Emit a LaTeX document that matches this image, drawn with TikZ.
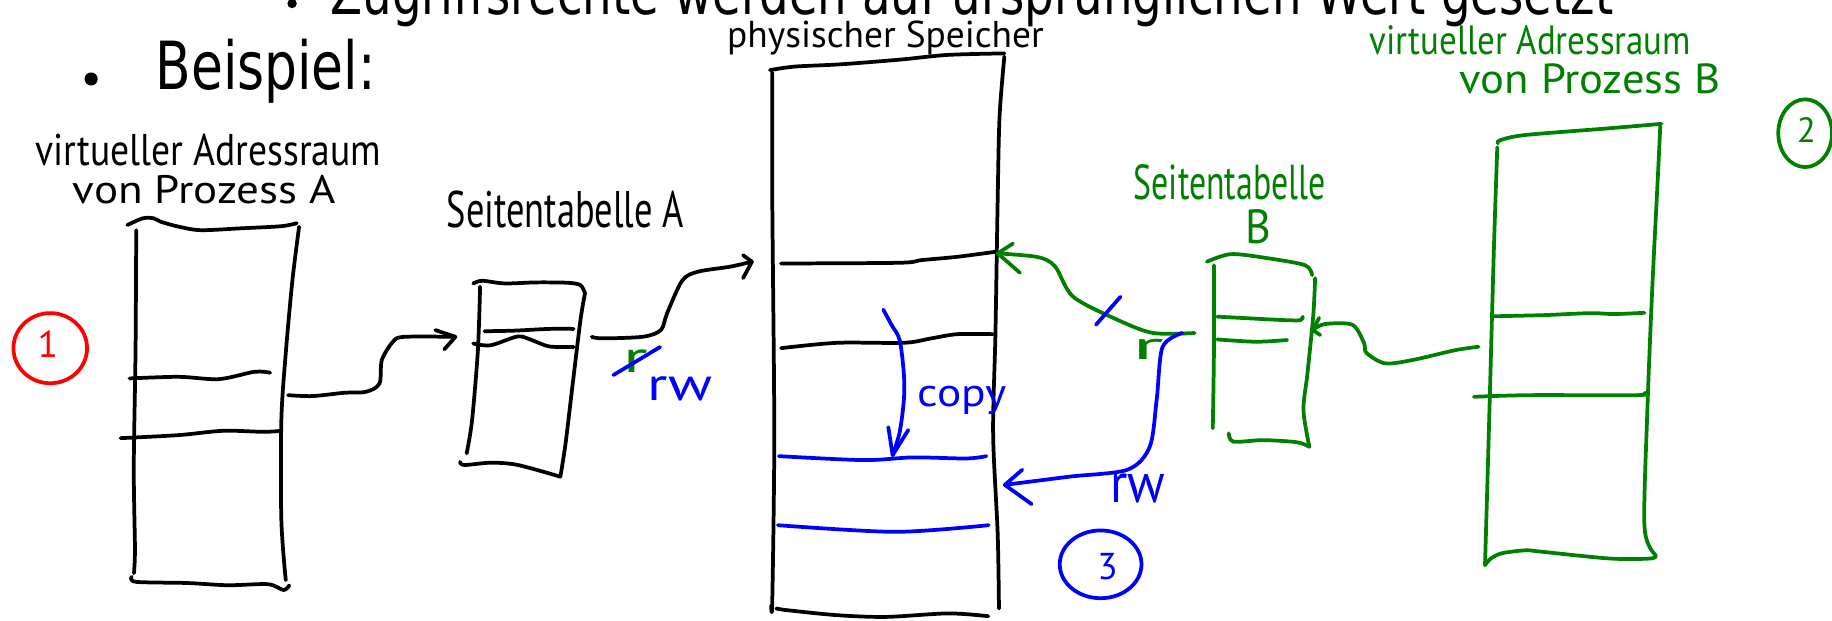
\documentclass[tikz,border=0pt]{standalone}
\usepackage{fontspec}
\usepackage{graphicx}
\newfontfamily\slidefont{DejaVu Sans}
\newfontfamily\penfont{PT Sans}
\newcommand\fitw[2]{\resizebox{#1}{\height}{#2}}
\definecolor{pengreen}{RGB}{0,128,0}
\definecolor{penblue}{RGB}{0,0,255}
\definecolor{penred}{RGB}{255,0,0}
\begin{document}
\begin{tikzpicture}[x=0.5pt,y=-0.5pt,
  pen/.style={line width=1.6pt,line cap=round,line join=round},
  lbl/.style={inner sep=0pt,anchor=base west},
  digit/.style={inner sep=0pt,anchor=base}]
\useasboundingbox (0,0) rectangle (1568,531);
\clip (0,0) rectangle (1568,531);

% ---- typed slide text ----
\node[lbl,font=\slidefont\fontsize{25.5}{30}\selectfont] (subitem) at (282.5,12)
  {\fitw{549pt}{Zugriffsrechte werden auf ursprünglichen Wert gesetzt}};
\fill (250,3) circle (4);
\node[lbl,font=\slidefont\fontsize{28.4}{34}\selectfont] (beispiel) at (132.7,77)
  {\fitw{94.2pt}{Beispiel:}};
\fill (78,67.6) circle (5.6);

% ---- handwritten labels ----
\node[lbl,font=\penfont\fontsize{19}{22}\selectfont] (vaA1) at (30,142)
  {\fitw{148pt}{virtueller Adressraum}};
\node[lbl,font=\penfont\fontsize{17}{20}\selectfont] (vaA2) at (62,174)
  {\fitw{112.5pt}{von Prozess A}};
\node[lbl,font=\penfont\fontsize{22}{26}\selectfont] (ptA) at (382,195)
  {\fitw{101.5pt}{Seitentabelle A}};
\node[lbl,font=\penfont\fontsize{16}{20}\selectfont] (phys) at (622,41)
  {\fitw{135.5pt}{physischer Speicher}};
\node[lbl,font=\penfont\fontsize{21}{25}\selectfont,text=pengreen] (ptB1) at (970,171)
  {\fitw{82pt}{Seitentabelle}};
\node[lbl,font=\penfont\fontsize{20.5}{25}\selectfont,text=pengreen] (ptB2) at (1066,208)
  {\fitw{11pt}{B}};
\node[lbl,font=\penfont\fontsize{17.5}{20}\selectfont,text=pengreen] (vaB1) at (1172,47)
  {\fitw{137.5pt}{virtueller Adressraum}};
\node[lbl,font=\penfont\fontsize{18}{22}\selectfont,text=pengreen] (vaB2) at (1249,80)
  {\fitw{111.5pt}{von Prozess B}};

% ---- virtual address space A ----
\draw[pen] plot[smooth,tension=.5] coordinates {(109,192.6) (122.4,186.8) (131.8,186.9) (137.6,189.8) (152.9,194) (172,197) (206.4,195.4) (240.8,193.6) (254,191)};
\draw[pen] plot[smooth,tension=.5] coordinates {(116.6,197) (116,300) (114.5,400) (115.5,470) (114.6,490.6)};
\draw[pen] plot[smooth,tension=.5] coordinates {(256,194) (250.3,239.7) (244.6,302) (240.8,359.6) (240.8,445) (244.6,496.6)};
\draw[pen] plot[smooth,tension=.5] coordinates {(112.7,493.7) (116.6,498) (160.5,499) (195,500.9) (229.3,500) (242.7,505) (247.6,501)};
\draw[pen] plot[smooth,tension=.5] coordinates {(110.9,323.9) (152.9,322.5) (187.3,324.5) (217.8,318.2) (231.2,319)};
\draw[pen] plot[smooth,tension=.5] coordinates {(103.2,375) (152.9,372.4) (191,368.7) (225.5,369.6) (240.8,368.7)};

% ---- page table A ----
\draw[pen] plot[smooth,tension=.5] coordinates {(405,242.6) (412.8,240.3) (431.9,242.6) (458.6,241.7) (485.4,242) (496.7,244) (500.7,251)};
\draw[pen] plot[smooth,tension=.5] coordinates {(410.9,245.4) (409,300) (404,360) (399.4,388)};
\draw[pen] plot[smooth,tension=.5] coordinates {(500.7,251) (496.8,274) (490,330) (484,380) (479.6,408)};
\draw[pen] plot[smooth,tension=.5] coordinates {(393.7,395.3) (397.5,398) (420.4,396) (443.3,398) (479.6,408)};
\draw[pen] plot[smooth,tension=.5] coordinates {(414.7,283.5) (440,283) (470,281.5) (491,281.5)};
\draw[pen] plot[smooth,tension=.5] coordinates {(405,294) (420,295.5) (443,288) (455,291) (470,296.5) (491,297)};

% ---- physical memory ----
\draw[pen] plot[smooth,tension=.5] coordinates {(659,60) (680,57) (720,55) (770.5,51) (811,47) (859.6,45.7)};
\draw[pen] plot[smooth,tension=.5] coordinates {(661,62) (661,171) (662.7,371) (661,513.7) (660,518)};
\draw[pen] plot[smooth,tension=.5] coordinates {(859.6,48.5) (855.5,100) (853.9,171) (852,285) (850,371) (853.9,456.7) (855,520.8)};
\draw[pen] plot[smooth,tension=.5] coordinates {(664.4,520.8) (674.2,522.3) (716.3,526.5) (758.3,528) (811.6,525) (845.9,527.4)};
\draw[pen] plot[smooth,tension=.5] coordinates {(668.5,225.5) (769.7,224.9) (788.9,222.6) (819.3,219.8) (852,215.5)};
\draw[pen] plot[smooth,tension=.5] coordinates {(668.5,298) (716.3,293.4) (773.6,293.4) (796.5,289.7) (819.3,286) (850,286)};
\draw[pen,penblue] plot[smooth,tension=.5] coordinates {(666.6,390.4) (739.2,393.8) (781.2,391.5) (827,392.4) (844.2,390.4)};
\draw[pen,penblue] plot[smooth,tension=.5] coordinates {(665.8,449.5) (766,455.2) (846.2,449.5)};

% ---- page table B ----
\draw[pen,pengreen] plot[smooth,tension=.5] coordinates {(1033,224) (1053.7,217.5) (1085,221) (1117,227) (1123,235.5)};
\draw[pen,pengreen] plot[smooth,tension=.5] coordinates {(1039,227) (1039,300) (1038,366.6)};
\draw[pen,pengreen] plot[smooth,tension=.5] coordinates {(1125.6,238) (1124,270) (1119,320) (1115.6,351) (1120.7,382.4)};
\draw[pen,pengreen] plot[smooth,tension=.5] coordinates {(1051.7,370.8) (1055.7,378) (1081,376.7) (1110,378.5) (1120.7,382.4)};
\draw[pen,pengreen] plot[smooth,tension=.5] coordinates {(1041.7,271) (1070,272.5) (1100,274) (1113,274) (1115,271)};
\draw[pen,pengreen] plot[smooth,tension=.5] coordinates {(1041.7,290.5) (1075,292.5) (1101.6,291)};

% ---- virtual address space B ----
\draw[pen,pengreen] plot[smooth,tension=.5] coordinates {(1282,122.7) (1284,120) (1305,115.6) (1376,109.9) (1422,106)};
\draw[pen,pengreen] plot[smooth,tension=.5] coordinates {(1281.5,126) (1279,200) (1277,270) (1274,380) (1271,483.7)};
\draw[pen,pengreen] plot[smooth,tension=.5] coordinates {(1421,108) (1419,150) (1414,250) (1410,350) (1407.5,451) (1417,475)};
\draw[pen,pengreen] plot[smooth,tension=.5] coordinates {(1271,483.7) (1276,478) (1285.5,473.5) (1305.5,471) (1317.5,472) (1377.4,478) (1413,478) (1417,475)};
\draw[pen,pengreen] plot[smooth,tension=.5] coordinates {(1277.4,270.7) (1321.5,269.7) (1361,268) (1381.4,268.8) (1407.4,267.7)};
\draw[pen,pengreen] plot[smooth,tension=.5] coordinates {(1261.5,339.6) (1309.4,338.2) (1401.4,338.2) (1407.4,336.3)};

% ---- connector end points ----
\coordinate (aOut) at (246.5,338.2);
\coordinate (tabAin) at (389.8,288.3);
\coordinate (tabAout) at (506.4,288.3);
\coordinate (physIn) at (643.6,224);
\coordinate (copyFrom) at (756,265);
\coordinate (copyTo) at (764,389.6);
\coordinate (tabBout) at (1022.5,285);
\coordinate (physInB) at (853.9,216.9);
\coordinate (rwFrom) at (1012,285);
\coordinate (rwTo) at (860,415);
\coordinate (vbOut) at (1265.5,296.8);
\coordinate (tabBin) at (1123.6,282.5);

% A -> page table A
\draw[pen] plot[smooth,tension=.5] coordinates {(aOut) (267.5,339) (294.3,336.2) (313.4,335.3) (324.8,328.2) (326.8,308.2) (336.3,292.5) (345.9,288.3) (tabAin)};
\draw[pen] (372.6,282.5) -- (tabAin) -- (380.3,299);
% page table A -> physical frame
\draw[pen] plot[smooth,tension=.5] coordinates {(tabAout) (516,289.6) (550.3,288.2) (565.6,282.5) (571,268) (584,240) (597.6,232.5) (624.6,228.3) (physIn)};
\draw[pen] (636,218.4) -- (physIn) -- (636,238);
% rights of A: r struck out, rw
\node[lbl,font=\penfont\fontsize{19}{22}\selectfont,text=pengreen] (rA) at (533,319) {\fitw{10.5pt}{r}};
\draw[pen,penblue] (525,321) -- (565,297);
\node[lbl,font=\penfont\fontsize{20}{24}\selectfont,text=penblue] (rwA) at (554,342.5) {\fitw{27.5pt}{rw}};

% copy of the frame
\draw[pen,penblue] plot[smooth,tension=.5] coordinates {(copyFrom) (763,278) (770,291) (773.6,320) (773.6,342.5) (770,370) (copyTo)};
\draw[pen,penblue] (760.3,365.6) -- (copyTo) -- (777.4,368);
\node[lbl,font=\penfont\fontsize{17}{20}\selectfont,text=penblue] (copy) at (785,348) {\fitw{38pt}{copy}};

% page table B -> shared frame (cut)
\draw[pen,pengreen] plot[smooth,tension=.5] coordinates {(tabBout) (987,285) (957,274) (918.6,254) (903,228) (888,220) (physInB)};
\draw[pen,pengreen] (867,208.4) -- (physInB) -- (873,233.5);
\draw[pen,penblue] (938,278) -- (959,254);
\node[lbl,font=\penfont\fontsize{17}{20}\selectfont,text=pengreen] (rB) at (968.5,308) {\fitw{13.5pt}{r}};

% page table B -> new frame, rw
\draw[pen,penblue] plot[smooth,tension=.5] coordinates {(rwFrom) (995,297) (990,342) (984,382.5) (965,402) (915,408) (rwTo)};
\draw[pen,penblue] (875,402) -- (rwTo) -- (883,431.5);
\node[lbl,font=\penfont\fontsize{24}{28}\selectfont,text=penblue] (rwB) at (950,430) {\fitw{23.5pt}{rw}};

% B -> page table B
\draw[pen,pengreen] plot[smooth,tension=.5] coordinates {(vbOut) (1245.5,299.7) (1209.6,308) (1185.5,311) (1169.5,302) (1167.5,293.7) (1157.5,278) (1133.6,277.4) (tabBin)};
\draw[pen,pengreen] (1129,272) -- (tabBin) -- (1130,286.8);

% ---- step numbers ----
\draw[pen,penred] (43,298) ellipse (31.5 and 30);
\node[digit,font=\penfont\fontsize{16}{20}\selectfont,text=penred] (one) at (41,306) {1};
\draw[pen,pengreen] (1545,114) ellipse (23 and 29);
\node[digit,font=\penfont\fontsize{15}{18}\selectfont,text=pengreen] (two) at (1546,122) {2};
\draw[pen,penblue] (942,483) ellipse (35 and 29);
\node[digit,font=\penfont\fontsize{16}{20}\selectfont,text=penblue] (three) at (948,496) {3};
\end{tikzpicture}
\end{document}
